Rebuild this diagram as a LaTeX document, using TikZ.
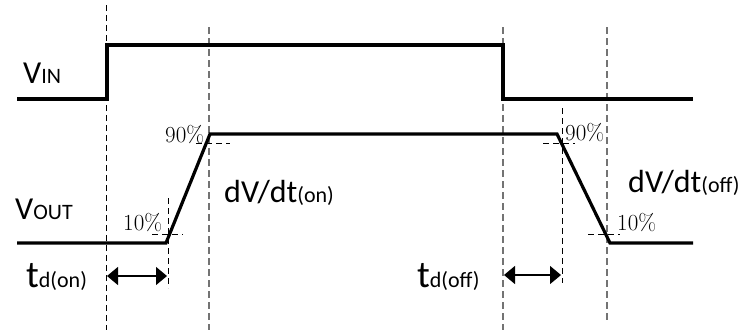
\documentclass[tikz,border=0pt]{standalone}
\usepackage{fontspec}
\newfontfamily\calib{Carlito}
\usetikzlibrary{arrows.meta}
\begin{document}
\begin{tikzpicture}[x=1pt,y=-1pt,
  wave/.style={line width=3.2pt, line join=miter},
  guide/.style={dash pattern=on 6pt off 4pt, line width=0.9pt},
  gguide/.style={dash pattern=on 7pt off 4pt, line width=1.4pt, draw=black!55},
  lvl/.style={dash pattern=on 6pt off 4pt, line width=0.8pt},
  lbl/.style={inner sep=0pt, anchor=base west, font=\calib\fontsize{32}{36}\selectfont},
  sub/.style={},
  pct/.style={inner sep=0pt, anchor=base west, font=\fontsize{23}{26}\selectfont},
  dly/.style={{Triangle[length=11pt,width=18pt]}-{Triangle[length=11pt,width=18pt]}, line width=1.3pt}]
\useasboundingbox (0,0) rectangle (743,330);
\newcommand\smallsz{\fontsize{22}{24}\selectfont}
% guides
\draw[guide] (106,5) -- (106,330);
\draw[gguide] (209,27) -- (209,330);
\draw[gguide] (503,27) -- (503,330);
\draw[gguide] (607,27) -- (607,322);
\draw[guide] (168,198) -- (168,288);
\draw[guide] (562,108) -- (562,283);
% level marks
\draw[lvl] (196,143) -- (230,143);
\draw[lvl] (152,234) -- (183,234);
\draw[lvl] (543,143) -- (575,143);
\draw[lvl] (588,234) -- (620,234);
% waveforms
\draw[wave] (17,99) -- (107,99) -- (107,45) -- (503,45) -- (503,99) -- (693,99);
\draw[wave] (17,243) -- (166,243) -- (210,134) -- (557,134) -- (610,243) -- (693,243);
% labels
\node[lbl] (vin) at (23,83) {V{\smallsz IN}};
\node[lbl] (vout) at (15,219) {V{\smallsz OUT}};
\node[lbl] (dvon) at (224,202) {dV/dt{\smallsz(on)}};
\node[lbl] (dvoff) at (628,192) {dV/dt{\smallsz(off)}};
\node[lbl,font=\calib\fontsize{38}{40}\selectfont] (tdon) at (26,287) {t{\smallsz d(on)}};
\node[lbl,font=\calib\fontsize{38}{40}\selectfont] (tdoff) at (417,287) {t{\smallsz d(off)}};
\node[pct] (p90l) at (165,142) {90\%};
\node[pct] (p10l) at (123,230) {10\%};
\node[pct] (p90r) at (565,140) {90\%};
\node[pct] (p10r) at (617,230) {10\%};
% delay arrows
\coordinate (a1) at (107,276);
\coordinate (b1) at (167,276);
\coordinate (a2) at (504,275);
\coordinate (b2) at (561,275);
\draw[dly] (a1) -- (b1);
\draw[dly] (a2) -- (b2);
\end{tikzpicture}
\end{document}
